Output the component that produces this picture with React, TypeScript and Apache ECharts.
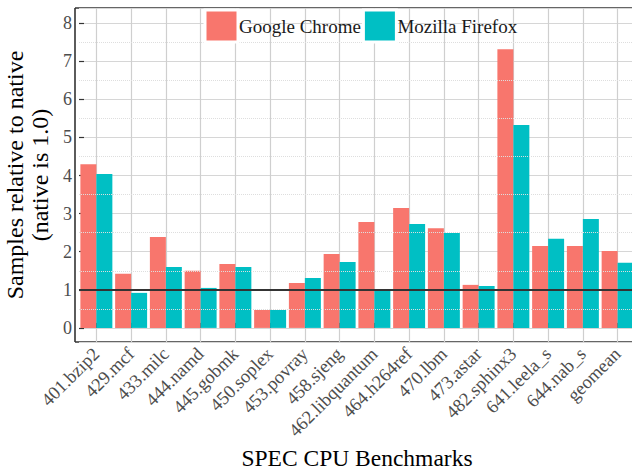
import React, { useEffect, useRef } from "react";
import * as echarts from "echarts";

const categories = [
  "401.bzip2", "429.mcf", "433.milc", "444.namd", "445.gobmk", "450.soplex",
  "453.povray", "458.sjeng", "462.libquantum", "464.h264ref", "470.lbm",
  "473.astar", "482.sphinx3", "641.leela_s", "644.nab_s", "geomean",
];
const chrome = [4.30, 1.42, 2.39, 1.50, 1.68, 0.47, 1.18, 1.94, 2.78, 3.15, 2.62, 1.13, 7.32, 2.15, 2.15, 2.02];
const firefox = [4.04, 0.92, 1.60, 1.05, 1.60, 0.47, 1.31, 1.73, 1.02, 2.73, 2.49, 1.10, 5.33, 2.34, 2.86, 1.71];
const minorGridValues = [0.5, 1.5, 2.5, 3.5, 4.5, 5.5, 6.5, 7.5];
const nativeValue = 1;

const FONT = "'Liberation Serif', 'Times New Roman', serif";
const W = 632;
const H = 470;

export default function App() {
  const ref = useRef<HTMLDivElement>(null);
  useEffect(() => {
    document.body.style.margin = "0";
    if (!ref.current) return;
    const chart = echarts.init(ref.current, null, { renderer: "svg" });
    const gl = 75, gt = 8, gb = 342;
    chart.setOption({
      animation: false,
      textStyle: { fontFamily: FONT },
      grid: { left: 79, right: -3, top: 8, bottom: 128, containLabel: false, outerBoundsMode: "none" },
      legend: {
        data: ["Google Chrome", "Mozilla Firefox"],
        left: 203.5,
        top: 8.5,
        padding: 0,
        icon: "rect",
        itemWidth: 33,
        itemHeight: 32,
        itemGap: 1,
        itemStyle: { borderColor: "#ffffff", borderWidth: 3 },
        textStyle: { fontFamily: FONT, fontSize: 19, color: "#1a1a1a", padding: [0, 0, 0, -4] },
        z: 10,
      },
      xAxis: {
        type: "category",
        data: categories,
        boundaryGap: true,
        name: "SPEC CPU Benchmarks",
        nameLocation: "middle",
        nameGap: 107,
        nameMoveOverlap: false,
        nameTextStyle: { fontFamily: FONT, fontSize: 23.5, color: "#000", lineHeight: 18 },
        axisLine: { show: false },
        axisTick: { show: true, inside: true, alignWithLabel: true, length: 5, lineStyle: { color: "#333", width: 1.2 } },
        axisLabel: { rotate: 45, fontSize: 18.5, color: "#4d4d4d", margin: 9, interval: 0, fontFamily: FONT },
        splitLine: { show: true, alignWithLabel: true, lineStyle: { color: "#cfcfcf", width: 1.2 } },
      },
      yAxis: {
        type: "value",
        min: -0.37,
        max: 8.4,
        splitNumber: 9,
        name: "Samples relative to native\n(native is 1.0)",
        nameLocation: "middle",
        nameRotate: 90,
        nameGap: 25,
        nameTextStyle: { fontFamily: FONT, fontSize: 24, color: "#000", lineHeight: 25, align: "center" },
        axisLine: { show: false },
        axisTick: { show: true, inside: true, length: 5, lineStyle: { color: "#333", width: 1.2 } },
        axisLabel: {
          showMinLabel: false,
          showMaxLabel: false,
          fontSize: 18,
          color: "#4d4d4d",
          margin: 7,
          fontFamily: FONT,
          formatter: (v: number) => (Math.abs(v - Math.round(v)) < 1e-6 ? String(Math.round(v)) : ""),
        },
        splitLine: { show: true, lineStyle: { color: "#d6d6d6", width: 1.2 } },
      },
      series: [
        {
          type: "line",
          data: [],
          z: 1,
          silent: true,
          markLine: {
            silent: true,
            symbol: "none",
            label: { show: false },
            lineStyle: { color: "#dedede", width: 1, type: "dotted" },
            data: minorGridValues.map((v) => ({ yAxis: v })),
          },
        },
        {
          name: "Google Chrome",
          type: "bar",
          data: chrome,
          barGap: "0%",
          barCategoryGap: "8%",
          itemStyle: { color: "#F8766D" },
          z: 2,
        },
        {
          name: "Mozilla Firefox",
          type: "bar",
          data: firefox,
          barGap: "0%",
          barCategoryGap: "8%",
          itemStyle: { color: "#00BFC4" },
          z: 2,
        },
        {
          type: "line",
          data: [],
          z: 5,
          silent: true,
          markLine: {
            silent: true,
            symbol: "none",
            label: { show: false },
            lineStyle: { color: "#333333", width: 2, type: "solid" },
            data: [{ yAxis: nativeValue }],
          },
        },
      ],
      graphic: [
        {
          type: "group",
          z: 6,
          children: [
            { type: "line", shape: { x1: gl, y1: gt, x2: gl, y2: gb }, style: { stroke: "#333", lineWidth: 1.6 } },
            { type: "line", shape: { x1: gl, y1: gt, x2: W, y2: gt }, style: { stroke: "#333", lineWidth: 1.6 } },
            { type: "line", shape: { x1: gl, y1: gb, x2: W, y2: gb }, style: { stroke: "#333", lineWidth: 1.6 } },
          ],
        },
      ],
    });
    return () => chart.dispose();
  }, []);
  return <div ref={ref} style={{ width: W, height: H }} />;
}
